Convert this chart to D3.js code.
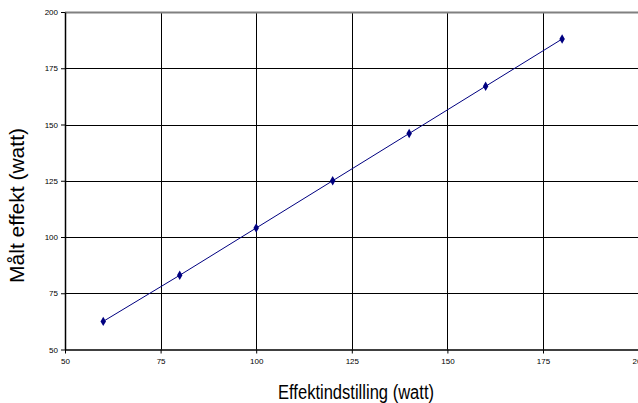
<!DOCTYPE html>
<html><head><meta charset="utf-8">
<script src="https://cdn.jsdelivr.net/npm/d3@7"></script>
<style>body{margin:0;background:#fff}svg{display:block}</style>
</head><body>
<svg id="c" width="638" height="403"></svg>
<script>
const settings = [60, 80, 100, 120, 140, 160, 180];
const measured = [62.5, 83, 104, 125, 146, 167, 188];
const xTicks = [50, 75, 100, 125, 150, 175, 200];
const yTicks = [50, 75, 100, 125, 150, 175, 200];
const xTitle = "Effektindstilling (watt)";
const yTitle = "Målt effekt (watt)";

const svg = d3.select("#c");
const L = 65, T = 12, B = 349.5;
const x = d3.scaleLinear().domain([50, 200]).range([L, L + 150 * 3.824]);
const y = d3.scaleLinear().domain([50, 200]).range([B, T]);

// gridlines
svg.append("g").selectAll("line").data(xTicks.slice(1)).join("line")
  .attr("x1", d => Math.round(x(d)) + 0.5).attr("x2", d => Math.round(x(d)) + 0.5)
  .attr("y1", T).attr("y2", B).attr("stroke", "#000").attr("stroke-width", 1);
svg.append("g").selectAll("line").data(yTicks.slice(1, -1)).join("line")
  .attr("y1", d => Math.round(y(d)) + 0.5).attr("y2", d => Math.round(y(d)) + 0.5)
  .attr("x1", L).attr("x2", 638).attr("stroke", "#000").attr("stroke-width", 1);
// top border
svg.append("line").attr("x1", L).attr("x2", 638).attr("y1", T + 0.5).attr("y2", T + 0.5)
  .attr("stroke", "#808080").attr("stroke-width", 2);

// axes
const fontTick = "Liberation Sans, Arial, sans-serif";
const xAxis = svg.append("g").attr("transform", `translate(0,${B})`)
  .call(d3.axisBottom(x).tickValues(xTicks).tickSize(4).tickSizeOuter(0));
xAxis.select(".domain").attr("stroke", "#000").attr("stroke-width", 1.5);
xAxis.selectAll("text").attr("font-family", fontTick).attr("font-size", 8).attr("dy", "0.9em").attr("fill", "#000");
const yAxis = svg.append("g").attr("transform", `translate(${L},0)`)
  .call(d3.axisLeft(y).tickValues(yTicks).tickSize(4).tickSizeOuter(0));
yAxis.select(".domain").attr("stroke", "#000").attr("stroke-width", 1.5);
yAxis.selectAll("text").attr("font-family", fontTick).attr("font-size", 8).attr("fill", "#000");

// line
const pts = settings.map((s, i) => [s, measured[i]]);
svg.append("path").datum(pts)
  .attr("d", d3.line().x(d => x(d[0])).y(d => y(d[1])))
  .attr("fill", "none").attr("stroke", "#000080").attr("stroke-width", 1);
svg.append("g").selectAll("path").data(pts).join("path")
  .attr("transform", d => `translate(${x(d[0])},${y(d[1])})`)
  .attr("d", d3.symbol(d3.symbolDiamond, 26))
  .attr("fill", "#000080");

// titles
const fontTitle = "'Liberation Sans', Arial, sans-serif";
svg.append("text").attr("x", 356).attr("y", 399).attr("text-anchor", "middle")
  .attr("font-family", fontTitle).attr("font-size", 20)
  .attr("textLength", 156).attr("lengthAdjust", "spacingAndGlyphs").text(xTitle);
svg.append("text").attr("transform", "translate(24,205.5) rotate(-90)").attr("text-anchor", "middle")
  .attr("font-family", fontTitle).attr("font-size", 20)
  .attr("textLength", 155).attr("lengthAdjust", "spacingAndGlyphs").text(yTitle);
</script>
</body></html>
